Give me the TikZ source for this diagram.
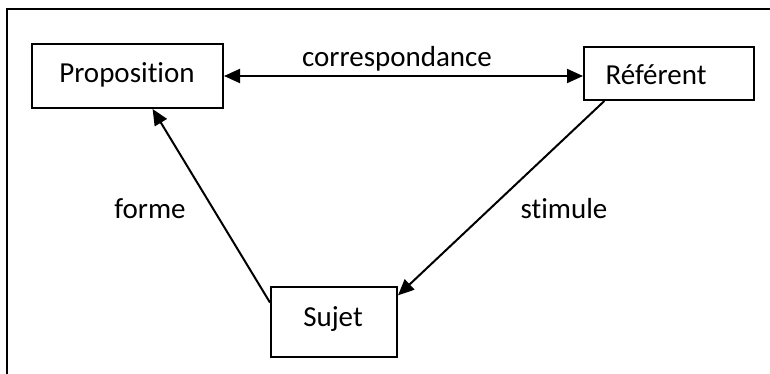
\documentclass[tikz,border=0pt]{standalone}
\usepackage{fontspec}
\setmainfont{Carlito}[Ligatures={NoCommon,NoContextual}]
\usetikzlibrary{arrows.meta,calc}
\begin{document}
\begin{tikzpicture}[x=1pt,y=-1pt,
  box/.style={draw,line width=2pt,inner sep=0pt},
  lbl/.style={inner sep=0pt,anchor=base,font=\fontsize{29}{34}\selectfont},
  tip/.tip={Triangle[length=16pt,width=14pt]},
  conn/.style={line width=2pt,-tip}]
\useasboundingbox (0,0) rectangle (770,374);
\draw[line width=2.2pt] (7,374) -- (7,9) -- (770,9);
\node[box,minimum width=191pt,minimum height=64pt] (prop) at (127.5,76) {};
\node[box,minimum width=170pt,minimum height=53pt] (ref) at (669,73.5) {};
\node[box,minimum width=126pt,minimum height=70pt] (suj) at (334,322) {};
\node[lbl] (propt) at (127,83) {Proposition};
\node[lbl] (reft) at (656,85) {Référent};
\node[lbl] (sujt) at (333,326) {Sujet};
\node[lbl] (corr) at (397,67) {correspondance};
\node[lbl] (forme) at (150,218) {forme};
\node[lbl] (stim) at (564,218) {stimule};
\draw[conn,tip-tip] (prop.east) -- (prop.east -| ref.west);
\draw[conn] ($(suj.north west)!0.23!(suj.south west)$) -- ($(prop.south west)!0.63!(prop.south east)$);
\draw[conn] ($(ref.south west)!0.124!(ref.south east)$) -- ($(suj.north east)!0.13!(suj.south east)$);
\end{tikzpicture}
\end{document}
